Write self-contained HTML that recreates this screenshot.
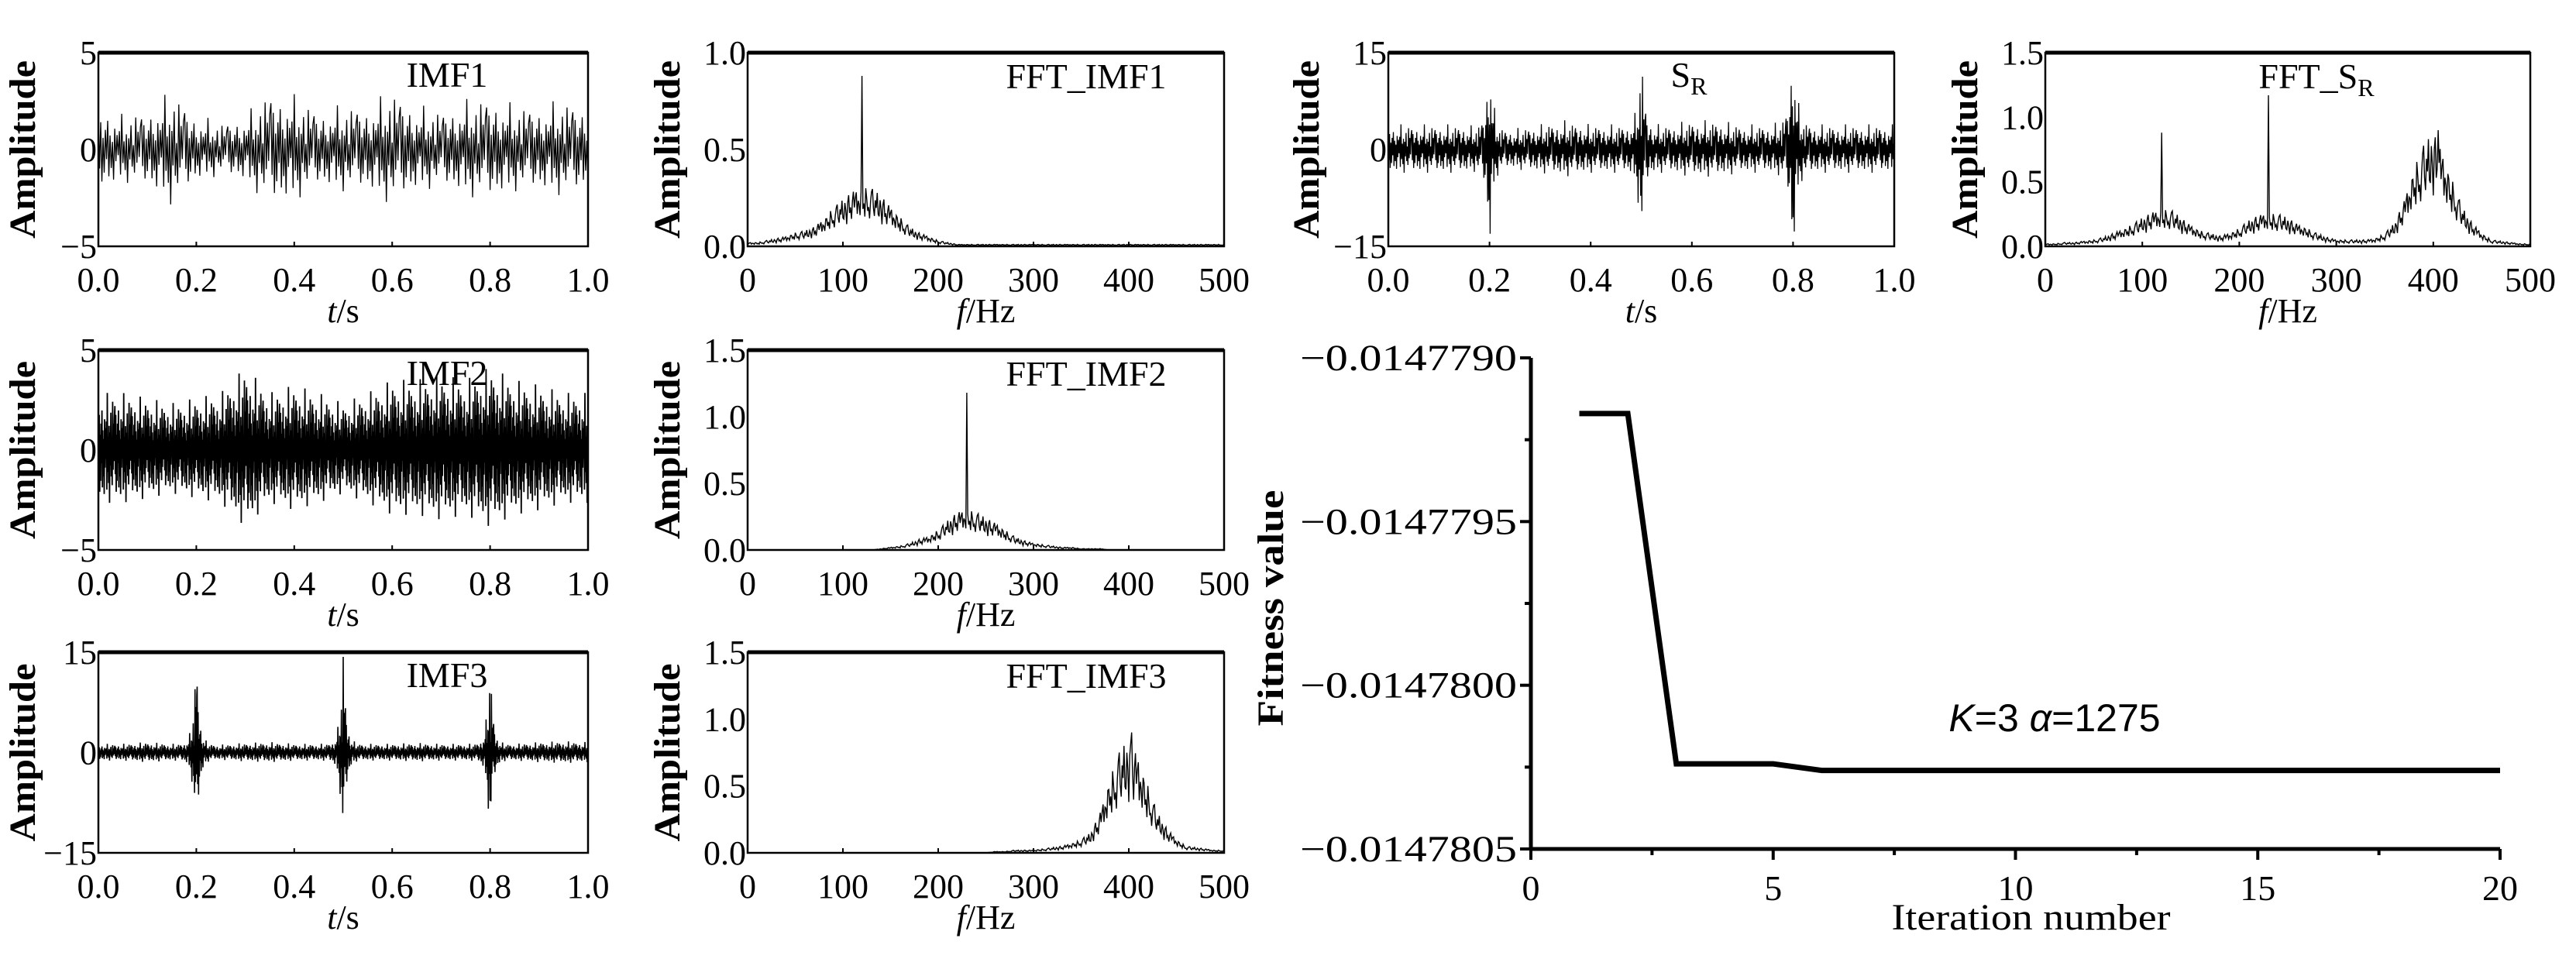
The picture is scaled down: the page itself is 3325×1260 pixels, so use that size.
<!DOCTYPE html>
<html><head><meta charset="utf-8"><style>
html,body{margin:0;padding:0;background:#fff;}
svg{display:block;}
text{font-family:"Liberation Serif",serif;fill:#000;}
</style></head><body>
<svg id="fig" width="3325" height="1260" viewBox="0 0 3325 1260" xmlns="http://www.w3.org/2000/svg"></svg>
<script>
// ---------- data ----------
const timeTicks = ["0.0","0.2","0.4","0.6","0.8","1.0"];
const freqTicks = ["0","100","200","300","400","500"];
// amplitude envelopes every 0.05 s (21 values)
const imf1Env = [1.8,1.4,1.6,2.4,1.4,1.1,1.4,2.4,2.2,1.6,1.8,1.8,2.4,1.8,1.6,2,2.2,1.8,1.8,2,1.8];
const imf2Env = [2.2,2.2,2,1.8,2,2.2,3.2,2.2,2.5,2.2,1.8,2.2,2.7,2.7,2.9,2.7,3.2,2.7,2.5,2.2,2.2];
const imf3Env = [1,1,1.2,1,1,0.9,1.1,1.2,1,1,1,1,1,1.1,1,1,1,1,1.2,1.3,1.2];
const srEnv   = [3,3,3,3,2.5,2.5,3,3.5,3,3,3,3,3.5,3.5,3,3,3.5,3,3,3,3];
const burstTimes = [0.2,0.5,0.8];
const imf3Bursts = [12,12,11];
const srBursts   = [13,11,14];
// spectrum envelopes every 10 Hz (51 values)
const fftImf1Env = [0.02,0.02,0.03,0.04,0.05,0.07,0.08,0.1,0.14,0.2,0.24,0.28,0.3,0.3,0.26,0.2,0.15,0.1,0.07,0.05,0.03,0.02,0.01,0.01,0.01,0.01,0.01,0.01,0.01,0.01,0.01,0.01,0.01,0.01,0.01,0.01,0.01,0.01,0.01,0.01,0.01,0.01,0.01,0.01,0.01,0.01,0.01,0.01,0.01,0.01,0.01];
const fftImf2Env = [0,0,0,0,0,0,0,0,0,0,0,0,0,0,0.01,0.02,0.03,0.05,0.08,0.1,0.15,0.22,0.28,0.3,0.28,0.24,0.2,0.15,0.1,0.07,0.05,0.04,0.03,0.02,0.02,0.01,0.01,0.01,0,0,0,0,0,0,0,0,0,0,0,0,0];
const fftImf3Env = [0,0,0,0,0,0,0,0,0,0,0,0,0,0,0,0,0,0,0,0,0,0,0,0,0,0,0.01,0.01,0.02,0.02,0.02,0.03,0.04,0.05,0.07,0.1,0.15,0.3,0.55,0.75,0.85,0.7,0.5,0.3,0.18,0.1,0.05,0.04,0.03,0.02,0.02];
const fftSrEnv   = [0.02,0.02,0.03,0.03,0.04,0.05,0.07,0.1,0.13,0.17,0.22,0.26,0.28,0.28,0.22,0.16,0.12,0.1,0.08,0.1,0.14,0.2,0.24,0.25,0.25,0.22,0.17,0.14,0.1,0.07,0.05,0.05,0.05,0.05,0.06,0.1,0.18,0.35,0.6,0.78,0.88,0.7,0.5,0.3,0.18,0.1,0.05,0.04,0.03,0.02,0.02];
const fftImf1Peaks = [[120,0.88]];
const fftImf2Peaks = [[230,1.18]];
const fftImf3Peaks = [[403,0.9]];
const fftSrPeaks   = [[120,0.88],[230,1.17],[405,0.9]];
// fitness convergence
const iterations = [1,2,3,4,5,6,7,8,9,10,11,12,13,14,15,16,17,18,19,20];
const fitness = [-0.01477917,-0.01477917,-0.01478024,-0.01478024,-0.01478024,-0.01478026,-0.01478026,-0.01478026,-0.01478026,-0.01478026,-0.01478026,-0.01478026,-0.01478026,-0.01478026,-0.01478026,-0.01478026,-0.01478026,-0.01478026,-0.01478026,-0.01478026];
const fitTicks = ["\u22120.0147790","\u22120.0147795","\u22120.0147800","\u22120.0147805"];
const fitTickVals = [-0.0147790,-0.0147795,-0.0147800,-0.0147805];
const iterTicks = [0,5,10,15,20];
// fixed oscillation pattern
const osc = [1,-0.55,0.8,-0.95,0.35,-0.7,0.6,-0.3,0.9,-0.85,0.45,-0.6,0.25,-1,0.7,-0.4,0.5,-0.2,0.65,-0.9,1.3,-0.5,0.3,-0.75,0.55,-1.2,0.4,-0.35,0.85,-0.6,0.15,-0.8,1.1,-0.45,0.6,-0.25,0.75];

// ---------- helpers ----------
const svg = document.getElementById('fig');
const NS = 'http://www.w3.org/2000/svg';
function mk(tag, attrs, parent){
  const e = document.createElementNS(NS, tag);
  for (const k in attrs) e.setAttribute(k, attrs[k]);
  (parent||svg).appendChild(e);
  return e;
}
function txt(s, x, y, size, parent, anchor, extra){
  const t = mk('text', Object.assign({x:x, y:y, 'font-size':size, 'text-anchor':anchor||'middle'}, extra||{}), parent);
  t.textContent = s;
  return t;
}
function interp(env, frac){
  const p = frac*(env.length-1);
  const i = Math.min(Math.floor(p), env.length-2);
  const f = p - i;
  return env[i]*(1-f) + env[i+1]*f;
}

function panel(o){
  const g = mk('g', {});
  
  
  const x0=o.x0, x1=o.x1, y0=o.y0, y1=o.y1;
  const sx = v => x0 + (v-o.xmin)/(o.xmax-o.xmin)*(x1-x0);
  const sy = v => y1 - (v-o.ymin)/(o.ymax-o.ymin)*(y1-y0);
  let pts = [];
  if (o.kind === 'time'){
    const N = o.n;
    for (let i=0;i<=N;i++){
      const t = i/N;
      let a = interp(o.env, t);
      if (o.bursts){
        burstTimes.forEach((bt,k)=>{
          const d = Math.abs(t-bt);
          a += o.bursts[k]*Math.exp(-d/0.006);
        });
      }
      const v = Math.max(o.ymin, Math.min(o.ymax, a*osc[i%osc.length]));
      pts.push(sx(t).toFixed(1)+','+sy(v).toFixed(1));
    }
  } else {
    for (let f=0; f<=500; f+=1){
      let a = interp(o.env, f/500);
      let v = a*(0.35+0.65*Math.min(1,Math.abs(osc[f%osc.length])));
      o.peaks.forEach(p=>{ if (Math.abs(f-p[0])<0.5) v = p[1]; });
      pts.push(sx(f).toFixed(1)+','+sy(v).toFixed(1));
    }
  }
  const line = mk('polyline', {points:pts.join(' '), fill:'none', stroke:'#000', 'stroke-width':o.sw||1.4}, g);
  
  
  const box = mk('rect', {x:x0, y:y0, width:x1-x0, height:y1-y0, fill:'none', stroke:'#000', 'stroke-width':2.5}, g);
  
  
  mk('line', {x1:x0, y1:y0, x2:x1, y2:y0, stroke:'#000', 'stroke-width':5}, g);
  o.xticks.forEach((s,i)=>{
    const v = o.xmin + i*(o.xmax-o.xmin)/(o.xticks.length-1);
    const x = sx(v);
    mk('line', {x1:x, y1:y1, x2:x, y2:y1-6, stroke:'#000', 'stroke-width':2}, g);
    const t = txt(s, x, y1+58, 44, g);
    
    
  });
  o.yticks.forEach((s,i)=>{
    const v = o.ymin + i*(o.ymax-o.ymin)/(o.yticks.length-1);
    const t = txt(s, x0-2, sy(v)+15, 44, g, 'end');
    
    
  });
  const xl = mk('text', {x:(x0+x1)/2, y:y1+98, 'font-size':44, 'text-anchor':'middle'}, g);
  
  
  const it = mk('tspan', {'font-style':'italic'}, xl); it.textContent = o.kind==='time'?'t':'f';
  const rest = mk('tspan', {}, xl); rest.textContent = o.kind==='time'?'/s':'/Hz';
  const yl = txt('Amplitude', 0, 0, 48, g, 'middle', {'font-weight':'bold', textLength:230, lengthAdjust:'spacingAndGlyphs', transform:'translate('+(o.x0-o.ylOff)+','+((y0+y1)/2)+') rotate(-90)'});
  
  
  const lb = mk('text', {x:o.lx, y:o.ly, 'font-size':46, 'text-anchor':'middle'}, g);
  
  
  const a = mk('tspan', {}, lb); a.textContent = o.label;
  if (o.sub){ const b = mk('tspan', {'font-size':32, dy:10}, lb); b.textContent = o.sub; }
}

const tY = ["\u22125","0","5"];
const tY15 = ["\u221215","0","15"];
const fY1 = ["0.0","0.5","1.0"];
const fY15 = ["0.0","0.5","1.0","1.5"];
const rows = [[68,318],[452,710],[842,1101]];

panel({name:'imf1-panel',kind:'time',x0:127,x1:759,y0:rows[0][0],y1:rows[0][1],xmin:0,xmax:1,ymin:-5,ymax:5,xticks:timeTicks,yticks:tY,env:imf1Env,n:420,label:'IMF1',lx:577,ly:112,ylOff:82,sw:1.3});
panel({name:'fft-imf1-panel',kind:'freq',x0:965,x1:1580,y0:rows[0][0],y1:rows[0][1],xmin:0,xmax:500,ymin:0,ymax:1,xticks:freqTicks,yticks:fY1,env:fftImf1Env,peaks:fftImf1Peaks,label:'FFT_IMF1',lx:1402,ly:114,ylOff:88});
panel({name:'sr-panel',kind:'time',x0:1792,x1:2445,y0:rows[0][0],y1:rows[0][1],xmin:0,xmax:1,ymin:-15,ymax:15,xticks:timeTicks,yticks:tY15,env:srEnv,bursts:srBursts,n:800,label:'S',sub:'R',lx:2180,ly:112,ylOff:90,sw:1.3});
panel({name:'fft-sr-panel',kind:'freq',x0:2640,x1:3266,y0:rows[0][0],y1:rows[0][1],xmin:0,xmax:500,ymin:0,ymax:1.5,xticks:freqTicks,yticks:fY15,env:fftSrEnv,peaks:fftSrPeaks,label:'FFT_S',sub:'R',lx:2990,ly:114,ylOff:88});
panel({name:'imf2-panel',kind:'time',x0:127,x1:759,y0:rows[1][0],y1:rows[1][1],xmin:0,xmax:1,ymin:-5,ymax:5,xticks:timeTicks,yticks:tY,env:imf2Env,n:1100,label:'IMF2',lx:577,ly:497,ylOff:82,sw:1.8});
panel({name:'fft-imf2-panel',kind:'freq',x0:965,x1:1580,y0:rows[1][0],y1:rows[1][1],xmin:0,xmax:500,ymin:0,ymax:1.5,xticks:freqTicks,yticks:fY15,env:fftImf2Env,peaks:fftImf2Peaks,label:'FFT_IMF2',lx:1402,ly:498,ylOff:88});
panel({name:'imf3-panel',kind:'time',x0:127,x1:759,y0:rows[2][0],y1:rows[2][1],xmin:0,xmax:1,ymin:-15,ymax:15,xticks:timeTicks,yticks:tY15,env:imf3Env,bursts:imf3Bursts,n:1100,label:'IMF3',lx:577,ly:887,ylOff:82,sw:1.6});
panel({name:'fft-imf3-panel',kind:'freq',x0:965,x1:1580,y0:rows[2][0],y1:rows[2][1],xmin:0,xmax:500,ymin:0,ymax:1.5,xticks:freqTicks,yticks:fY15,env:fftImf3Env,peaks:fftImf3Peaks,label:'FFT_IMF3',lx:1402,ly:888,ylOff:88});

// ---------- fitness chart ----------
(function(){
  const g = mk('g', {});
  
  
  const X0=1976, X1=3227, Y0=462, Y1=1096;
  const ymax=-0.0147790, ymin=-0.0147805;
  const sx = v => X0 + v/20*(X1-X0);
  const sy = v => Y0 + (ymax-v)/(ymax-ymin)*(Y1-Y0);
  const ya = mk('line', {x1:X0, y1:Y0, x2:X0, y2:Y1, stroke:'#000', 'stroke-width':5}, g);
  
  
  const xa = mk('line', {x1:X0, y1:Y1, x2:X1, y2:Y1, stroke:'#000', 'stroke-width':5}, g);
  
  
  fitTickVals.forEach((v,i)=>{
    const y = sy(v);
    mk('line', {x1:X0-14, y1:y, x2:X0, y2:y, stroke:'#000', 'stroke-width':4}, g);
    if (i<fitTickVals.length-1){ const ym = sy(v-0.00000025); mk('line', {x1:X0-8, y1:ym, x2:X0, y2:ym, stroke:'#000', 'stroke-width':4}, g); }
    const t = txt(fitTicks[i], X0-18, y+16, 48, g, 'end', {textLength:280, lengthAdjust:'spacingAndGlyphs'});
    
    
  });
  iterTicks.forEach((v,i)=>{
    const x = sx(v);
    mk('line', {x1:x, y1:Y1, x2:x, y2:Y1+14, stroke:'#000', 'stroke-width':4}, g);
    if (i<iterTicks.length-1){ const xm = sx(v+2.5); mk('line', {x1:xm, y1:Y1, x2:xm, y2:Y1+8, stroke:'#000', 'stroke-width':4}, g); }
    const t = txt(String(v), x, Y1+66, 46, g);
    
    
  });
  const pts = iterations.map((it,i)=>sx(it).toFixed(1)+','+sy(fitness[i]).toFixed(1)).join(' ');
  const ln = mk('polyline', {points:pts, fill:'none', stroke:'#000', 'stroke-width':7, 'stroke-linejoin':'miter'}, g);
  
  
  const xt = txt('Iteration number', (X0+X1)/2+20, Y1+104, 48, g, 'middle', {textLength:360, lengthAdjust:'spacingAndGlyphs'});
  
  
  const yt = txt('Fitness value', 0, 0, 48, g, 'middle', {'font-weight':'bold', textLength:305, lengthAdjust:'spacingAndGlyphs', transform:'translate(1656,785) rotate(-90)'});
  
  
  const ann = mk('text', {x:2652, y:944, 'font-size':50, 'text-anchor':'middle', style:'font-family:"Liberation Sans",sans-serif'}, g);
  
  
  const s1 = mk('tspan', {'font-style':'italic'}, ann); s1.textContent='K';
  const s2 = mk('tspan', {}, ann); s2.textContent='=3 ';
  const s3 = mk('tspan', {'font-style':'italic'}, ann); s3.textContent='\u03b1';
  const s4 = mk('tspan', {}, ann); s4.textContent='=1275';
})();
</script>
</body></html>
